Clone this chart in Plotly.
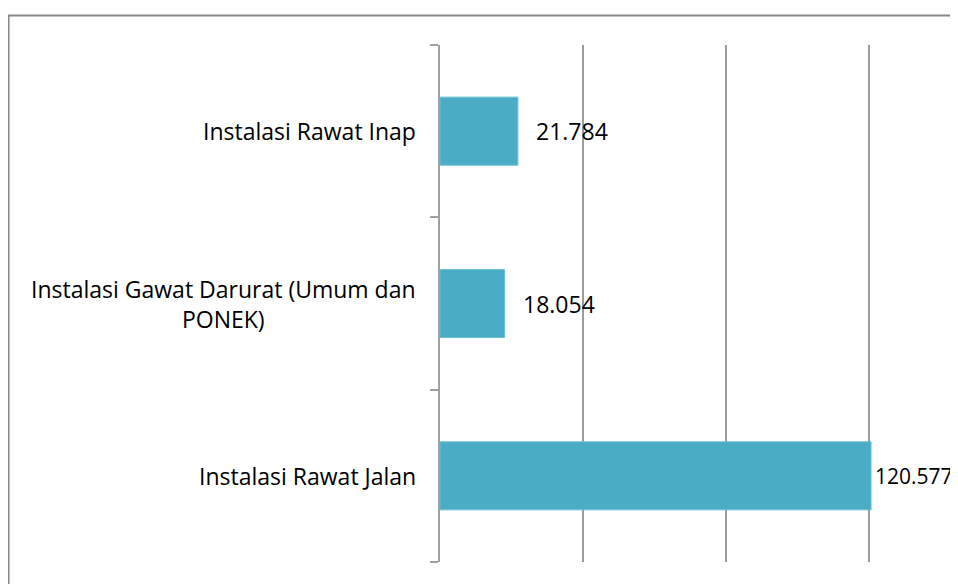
import plotly.graph_objects as go

# data (bottom to top, as drawn)
categories = ["Instalasi Rawat Jalan", "Instalasi Gawat Darurat (Umum dan PONEK)", "Instalasi Rawat Inap"]
cat_labels = ["Instalasi Rawat Jalan", "Instalasi Gawat Darurat (Umum dan<br>PONEK)", "Instalasi Rawat Inap"]
values = [120577, 18054, 21784]

FONT = "Open Sans"
FSIZE = 23
BAR_COLOR = "#4BACC6"

fig = go.Figure()
fig.add_trace(go.Bar(
    y=categories,
    x=values,
    orientation="h",
    marker=dict(color=BAR_COLOR, line=dict(color="#6cc0d6", width=1)),
    hoverinfo="skip",
))

# value labels, indonesian thousand separator
# (the last one is squeezed a bit so it stays inside the page)
label_shift = [2, 16, 16]
label_size = [21, FSIZE, FSIZE]
for cat, val, sh, sz in zip(categories, values, label_shift, label_size):
    fig.add_annotation(
        x=val, y=cat, text=f"{val:,}".replace(",", "."),
        xanchor="left", yanchor="middle", xshift=sh, showarrow=False,
        font=dict(family=FONT, size=sz, color="#000000"),
    )

# category labels (centered multi-line like excel)
for cat, lab in zip(categories, cat_labels):
    fig.add_annotation(
        x=0, xref="paper", y=cat, text=lab, align="center",
        xanchor="right", yanchor="middle", xshift=-22, showarrow=False,
        font=dict(family=FONT, size=FSIZE, color="#000000"),
    )

# outer chart border (cropped at right/bottom)
fig.add_shape(type="rect", xref="paper", yref="paper",
              x0=-0.833, x1=1.3, y0=-0.3, y1=1.057,
              line=dict(color="#878787", width=2), layer="below")

fig.update_layout(
    width=950, height=576,
    margin=dict(l=432, r=0, t=37, b=22),
    paper_bgcolor="white", plot_bgcolor="white",
    showlegend=False,
    bargap=0.605,
    font=dict(family=FONT, size=FSIZE, color="#000000"),
)
fig.update_xaxes(
    range=[0, 144900], dtick=40000, tick0=0,
    showgrid=True, gridcolor="#9c9c9c", gridwidth=2,
    showticklabels=False, zeroline=False, showline=False, ticks="",
)
fig.update_yaxes(
    type="category", categoryorder="array", categoryarray=categories,
    range=[-0.5, 2.5], showticklabels=False,
    showline=True, linecolor="#a0a0a0", linewidth=2,
    ticks="outside", ticklen=8, tickcolor="#a0a0a0", tickwidth=2,
    tickson="boundaries", showgrid=False, zeroline=False,
)

fig.write_html("out.html")
